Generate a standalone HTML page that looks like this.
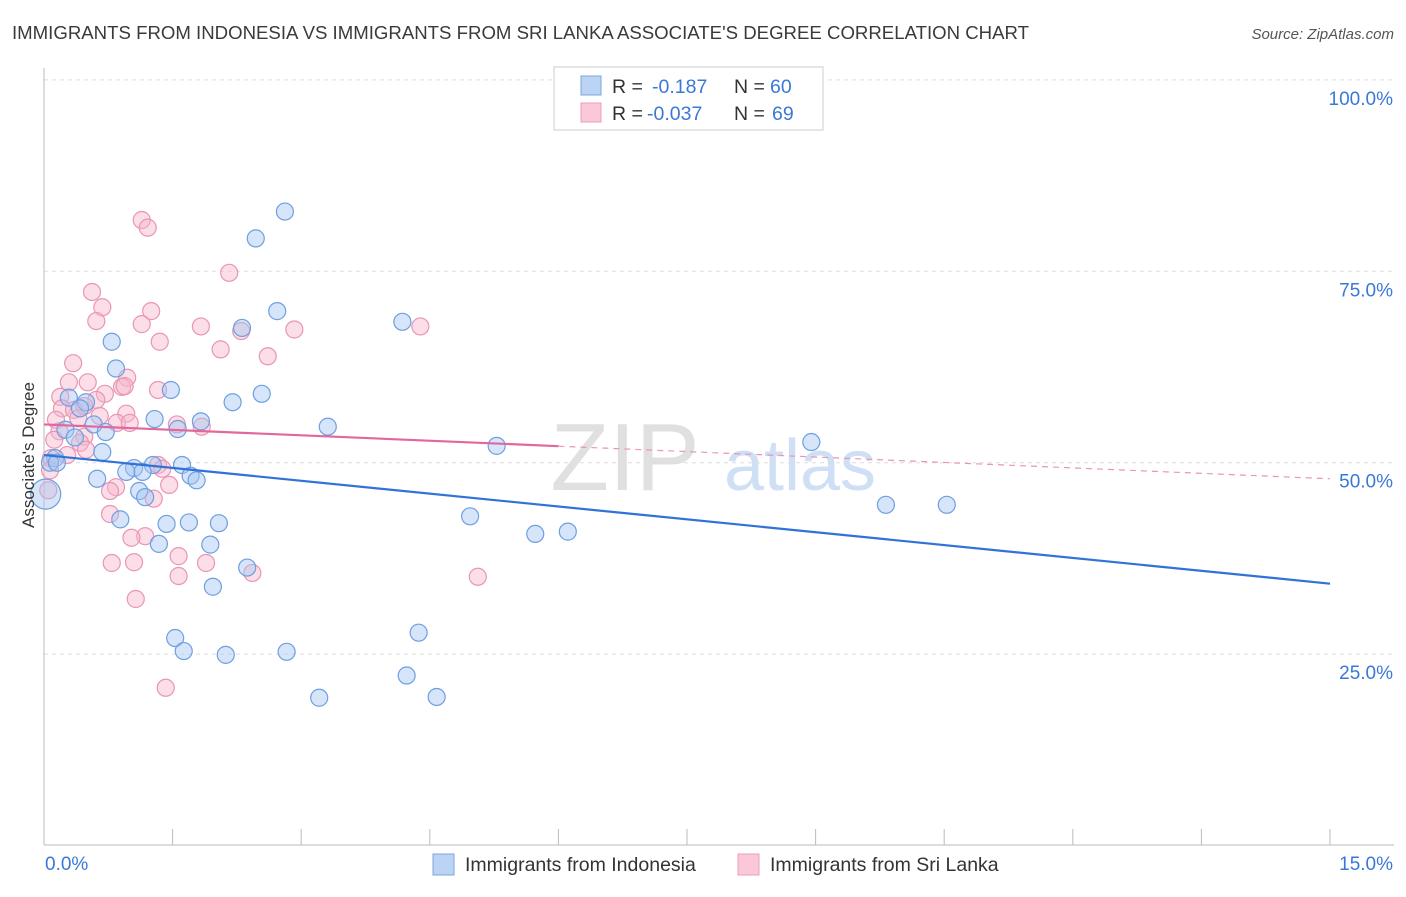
<!DOCTYPE html>
<html><head><meta charset="utf-8"><style>
body{margin:0;background:#fff;font-family:"Liberation Sans",sans-serif}
svg text{font-family:"Liberation Sans",sans-serif}
</style></head><body>
<svg id="chart" width="1406" height="892" xmlns="http://www.w3.org/2000/svg">
<text x="12" y="39" font-size="18.6" fill="#3a3a3a" textLength="1017" lengthAdjust="spacingAndGlyphs">IMMIGRANTS FROM INDONESIA VS IMMIGRANTS FROM SRI LANKA ASSOCIATE'S DEGREE CORRELATION CHART</text>
<text x="1394" y="39" font-size="15" fill="#555" text-anchor="end" font-style="italic">Source: ZipAtlas.com</text>
<g>
<text x="625" y="490" font-size="96" fill="#e0e0e0" font-family="Liberation Serif" text-anchor="middle">ZIP</text>
<text x="800" y="490" font-size="72" fill="#cfdff5" text-anchor="middle">atlas</text>
</g>
<g id="grid"></g><g id="axes"></g><g id="marks"></g>
<text transform="translate(34,455) rotate(-90)" font-size="17" fill="#333" text-anchor="middle">Associate's Degree</text>
<g>
<rect x="554" y="67" width="269" height="63" fill="#fff" stroke="#ccc"/>
<rect x="581" y="76" width="20" height="19" fill="#bcd4f4" stroke="#7aa6e0"/>
<rect x="581" y="103" width="20" height="19" fill="#fbc8d8" stroke="#eaa0b8"/>
<text x="612" y="93" font-size="19.5" fill="#333">R =</text>
<text x="652" y="93" font-size="19.5" fill="#3a78d8">-0.187</text>
<text x="734" y="93" font-size="19.5" fill="#333">N =</text>
<text x="770" y="93" font-size="19.5" fill="#3a78d8">60</text>
<text x="612" y="120" font-size="19.5" fill="#333">R =</text>
<text x="647" y="120" font-size="19.5" fill="#3a78d8">-0.037</text>
<text x="734" y="120" font-size="19.5" fill="#333">N =</text>
<text x="772" y="120" font-size="19.5" fill="#3a78d8">69</text>
</g>
<g>
<rect x="433" y="854" width="21" height="21" fill="#bcd4f4" stroke="#7aa6e0"/>
<text x="465" y="871" font-size="19.5" fill="#333">Immigrants from Indonesia</text>
<rect x="738" y="854" width="21" height="21" fill="#fbc8d8" stroke="#eaa0b8"/>
<text x="770" y="871" font-size="19.5" fill="#333">Immigrants from Sri Lanka</text>
</g>
</svg>
<script>
const yTicks=[25,50,75,100];
const yTickLabels=["25.0%","50.0%","75.0%","100.0%"];
const xEndLabels=["0.0%","15.0%"];
const blueX=[2.81,2.47,2.72,2.31,4.18,0.79,0.84,1.48,2.54,2.20,0.29,0.49,0.42,1.29,1.83,1.56,3.31,0.25,0.58,0.72,0.36,8.95,5.28,0.68,0.13,0.07,0.15,1.27,1.05,1.61,0.96,1.15,1.71,1.78,0.62,0.02,1.11,1.18,9.82,10.53,4.97,0.89,1.43,1.69,2.04,5.73,6.11,1.34,1.94,2.37,1.97,4.37,1.53,1.63,2.12,2.83,4.23,3.21,4.58];
const blueY=[82.8,79.3,69.8,67.6,68.4,65.8,62.3,59.5,59.0,57.9,58.5,57.9,57.1,55.7,55.4,54.4,54.7,54.3,55.0,54.0,53.3,52.7,52.2,51.4,50.6,50.0,50.0,49.7,49.3,49.7,48.8,48.8,48.3,47.7,47.9,45.9,46.3,45.5,44.5,44.5,43.0,42.6,42.0,42.2,42.1,40.7,41.0,39.4,39.3,36.3,33.8,27.8,27.1,25.4,24.9,25.3,22.2,19.3,19.4];
const pinkX=[1.14,1.21,2.16,0.56,0.68,1.25,0.61,1.14,1.83,2.92,4.39,2.30,1.35,2.06,2.61,0.34,0.97,0.29,0.51,0.91,0.94,1.33,0.71,0.19,0.61,0.21,0.35,0.47,0.96,0.65,0.14,0.85,1.0,0.40,1.55,1.84,0.18,0.47,0.12,0.42,0.49,0.27,0.08,1.33,1.38,0.07,1.46,0.84,0.77,0.05,1.28,0.77,1.18,1.02,1.57,1.89,0.79,1.05,2.43,1.57,5.06,1.07,1.42];
const pinkY=[81.7,80.7,74.8,72.3,70.3,69.8,68.5,68.1,67.8,67.4,67.8,67.2,65.8,64.8,63.9,63.0,61.1,60.5,60.5,59.9,60.0,59.5,59.0,58.6,58.2,57.1,56.9,57.4,56.4,56.1,55.6,55.2,55.2,55.8,55.0,54.7,54.1,53.4,53.0,52.6,51.7,51.0,50.6,49.7,49.2,49.0,47.1,46.8,46.3,46.4,45.3,43.3,40.4,40.2,37.8,36.9,36.9,37.0,35.6,35.2,35.1,32.2,20.6];
const blueTrend=[51.0,34.2];
const pinkTrend=[55.0,47.9];
const pinkSolidEnd=6;

const NS="http://www.w3.org/2000/svg";
const X0=44,X1=1330,Y0=845.5,YS=7.656;
const xs=v=>X0+v*(X1-X0)/15;
const ys=v=>Y0-v*YS;
function mk(tag,attrs,parent){const e=document.createElementNS(NS,tag);for(const k in attrs)e.setAttribute(k,attrs[k]);parent.appendChild(e);return e;}
const grid=document.getElementById('grid'),axes=document.getElementById('axes'),marks=document.getElementById('marks');
yTicks.forEach((t,i)=>{
 const l=mk('line',{x1:X0,x2:1394,y1:ys(t),y2:ys(t),stroke:'#ddd','stroke-dasharray':'4,4'},grid);
 
 
 const tx=mk('text',{x:1393,y:ys(t)+25,'font-size':19,fill:'#3a78d8','text-anchor':'end'},axes);
 tx.textContent=yTickLabels[i];
 
 
});
const ax=mk('line',{x1:X0,x2:X0,y1:68,y2:845,stroke:'#bbb'},axes);


const bx=mk('line',{x1:X0,x2:1394,y1:845,y2:845,stroke:'#bbb'},axes);


for(let i=0;i<=10;i++){
 const tk=mk('line',{x1:xs(i*1.5),x2:xs(i*1.5),y1:829,y2:845,stroke:'#bbb'},axes);
 
 
}
const xl0=mk('text',{x:45,y:870,'font-size':19,fill:'#3a78d8'},axes);xl0.textContent=xEndLabels[0];


const xl1=mk('text',{x:1393,y:870,'font-size':19,fill:'#3a78d8','text-anchor':'end'},axes);xl1.textContent=xEndLabels[1];


function pts(X,Y,fill,stroke,name){
 X.forEach((x,i)=>{
  const big=(x<0.05&&name==='indonesia');
  const c=mk('circle',{cx:xs(x),cy:ys(Y[i]),r:big?15:8.5,fill:fill,stroke:stroke,'stroke-width':1.2},marks);
  
  
 });
}
pts(pinkX,pinkY,'rgba(247,182,204,0.45)','#e995b4','sri-lanka');
pts(blueX,blueY,'rgba(165,198,242,0.45)','#6e9fe0','indonesia');
const bl=mk('line',{x1:xs(0),y1:ys(blueTrend[0]),x2:xs(15),y2:ys(blueTrend[1]),stroke:'#2f72d8','stroke-width':2.2},marks);


const pm=pinkTrend[0]+(pinkTrend[1]-pinkTrend[0])*pinkSolidEnd/15;
const pl=mk('line',{x1:xs(0),y1:ys(pinkTrend[0]),x2:xs(pinkSolidEnd),y2:ys(pm),stroke:'#e2679a','stroke-width':2.2},marks);


const pd=mk('line',{x1:xs(pinkSolidEnd),y1:ys(pm),x2:xs(15),y2:ys(pinkTrend[1]),stroke:'#e995b4','stroke-width':1.2,'stroke-dasharray':'6,5'},marks);


</script>
</body></html>
